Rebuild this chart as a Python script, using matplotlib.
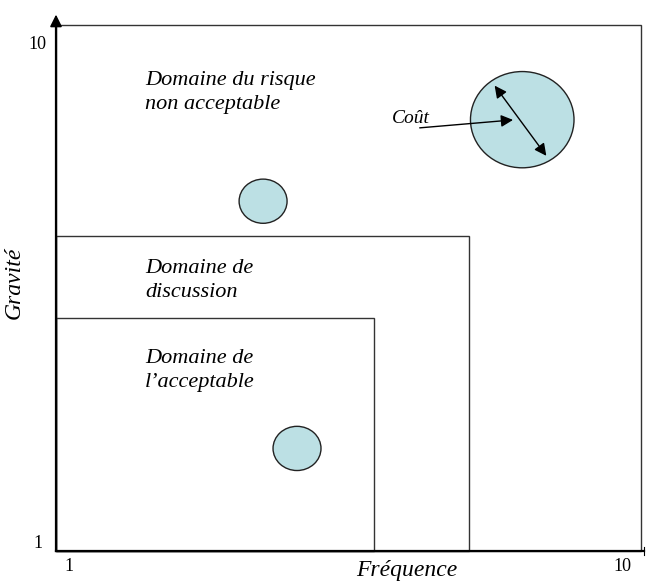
import matplotlib.pyplot as plt
from matplotlib.patches import Rectangle, Ellipse

plt.rcParams['font.family'] = ['Liberation Serif', 'DejaVu Serif']

# domain boundaries (axes units 0..10)
zones = ["Domaine de\nl\u2019acceptable", "Domaine de\ndiscussion", "Domaine du risque\nnon acceptable"]
zone_right = [5.44, 7.06, 10.0]
zone_top = [4.43, 5.99, 10.0]
zone_text_y = [3.44, 5.15, 8.72]

# risks: centre x, centre y, width, height
risk_x = [3.54, 4.12, 7.97]
risk_y = [6.65, 1.95, 8.2]
risk_w = [0.82, 0.82, 1.77]
risk_h = [0.84, 0.84, 1.83]

tick_labels = ["1", "10"]

fig = plt.figure(figsize=(6.46, 5.82), dpi=100)
ax = fig.add_axes([56 / 646, 31 / 582, 585 / 646, 526 / 582])
ax.set_xlim(0, 10)
ax.set_ylim(0, 10)
ax.axis("off")

# zones
for r, t in zip(zone_right, zone_top):
    ax.add_patch(Rectangle((0, 0), r, t, fill=False, edgecolor="#333333", lw=1.0,
                           clip_on=False))
for txt, ty in zip(zones, zone_text_y):
    ax.text(1.52, ty, txt, fontsize=16, style="italic", va="center", ha="left",
            linespacing=1.35)

# axes lines
ax.plot([0, 0], [0, 10.05], color="black", lw=1.6, clip_on=False)
ax.plot([0, 10.05], [0, 0], color="black", lw=1.6, clip_on=False)
ax.annotate("", xy=(0, 10.25), xytext=(0, 10.0),
            arrowprops=dict(arrowstyle="-|>", color="black", lw=1.2,
                            mutation_scale=18), annotation_clip=False)
ax.plot([10.05, 10.05], [-0.08, 0.08], color="black", lw=0.8, clip_on=False)

# risks
for x, y, w, h in zip(risk_x, risk_y, risk_w, risk_h):
    ax.add_patch(Ellipse((x, y), w, h, facecolor="#bce0e4", edgecolor="#222222", lw=1.0))

# cost arrows
ax.annotate("", xy=(7.47, 8.89), xytext=(8.41, 7.47),
            arrowprops=dict(arrowstyle="<|-|>", color="black", lw=1.0, mutation_scale=18))
ax.annotate("", xy=(7.86, 8.2), xytext=(6.17, 8.04),
            arrowprops=dict(arrowstyle="-|>", color="black", lw=1.0, mutation_scale=18))
ax.text(5.74, 8.23, "Co\u00fbt", fontsize=14, style="italic", ha="left", va="center")

# tick labels
ax.text(-0.31, 9.62, tick_labels[1], fontsize=13, ha="center", va="center")
ax.text(-0.31, 0.15, tick_labels[0], fontsize=13, ha="center", va="center")
ax.text(0.22, -0.29, tick_labels[0], fontsize=13, ha="center", va="center")
ax.text(9.69, -0.29, tick_labels[1], fontsize=13, ha="center", va="center")

ax.text(6.0, -0.38, "Fr\u00e9quence", fontsize=17, style="italic", ha="center", va="center")
ax.text(-0.72, 5.1, "Gravit\u00e9", fontsize=17, style="italic", ha="center", va="center",
        rotation=90)

fig.savefig("out.png", dpi=100)
